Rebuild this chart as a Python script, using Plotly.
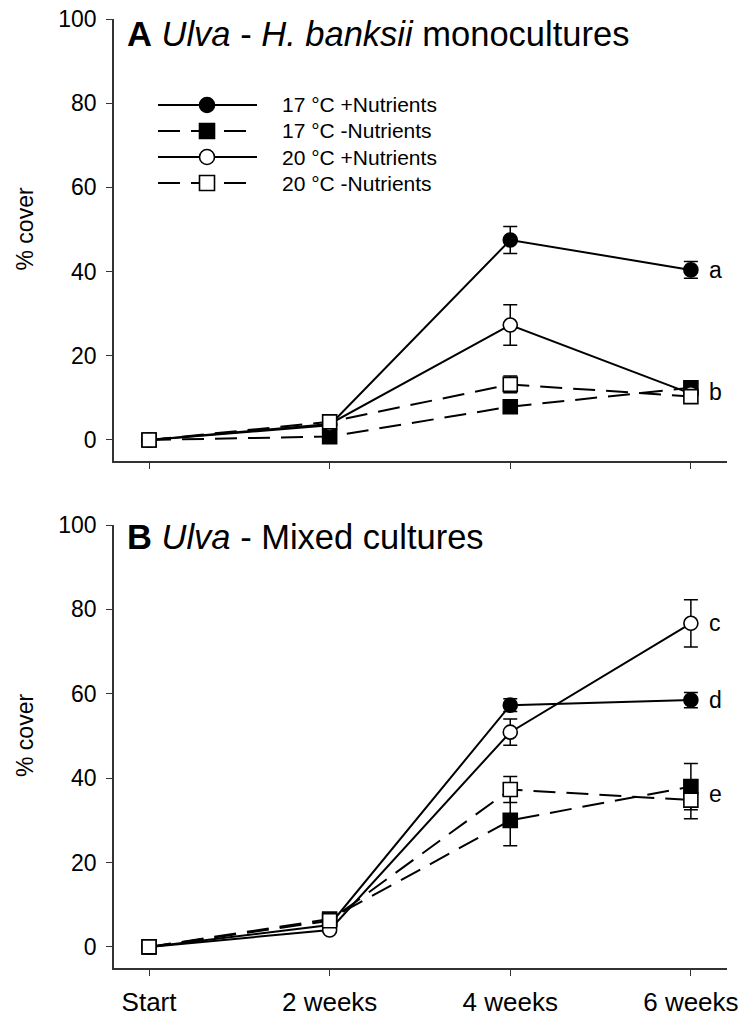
import plotly.graph_objects as go

# Sampling times (shared by both panels)
times = ["Start", "2 weeks", "4 weeks", "6 weeks"]
tpos = [0, 1, 2, 3]

series_names = ["17 °C +Nutrients", "17 °C -Nutrients", "20 °C +Nutrients", "20 °C -Nutrients"]

# Panel A: Ulva - H. banksii monocultures (% cover, mean and SE)
a_17_pos = [0.0, 3.5, 47.5, 40.4]
a_17_pos_se = [0.3, 0.5, 3.2, 2.0]
a_17_neg = [0.0, 0.8, 7.9, 12.4]
a_17_neg_se = [0.3, 0.5, 1.0, 1.0]
a_20_pos = [0.0, 3.8, 27.3, 11.0]
a_20_pos_se = [0.3, 0.5, 4.8, 1.0]
a_20_neg = [0.0, 4.3, 13.2, 10.3]
a_20_neg_se = [0.3, 0.5, 2.0, 1.0]

# Panel B: Ulva - Mixed cultures (% cover, mean and SE)
b_17_pos = [0.0, 5.2, 57.3, 58.5]
b_17_pos_se = [0.3, 0.5, 1.5, 1.8]
b_17_neg = [0.0, 6.6, 30.0, 38.0]
b_17_neg_se = [0.3, 0.5, 6.0, 5.5]
b_20_pos = [0.0, 4.0, 50.9, 76.7]
b_20_pos_se = [0.3, 0.5, 3.1, 5.6]
b_20_neg = [0.0, 6.2, 37.3, 34.8]
b_20_neg_se = [0.3, 0.5, 3.1, 4.4]

# Significance groups at 6 weeks
a_groups = ["a", "b"]
a_group_y = [40.4, 11.3]
b_groups = ["c", "d", "e"]
b_group_y = [76.7, 58.5, 36.3]

y_ticks = [0, 20, 40, 60, 80, 100]

FONT = "Liberation Sans, Arial, sans-serif"
W, H = 744, 1018

styles = [
    dict(symbol="circle", fill="black", dash="solid"),
    dict(symbol="square", fill="black", dash="22px,11px"),
    dict(symbol="circle", fill="white", dash="solid"),
    dict(symbol="square", fill="white", dash="22px,11px"),
]

fig = go.Figure()

panels = [
    ("x", "y", [(a_17_pos, a_17_pos_se), (a_17_neg, a_17_neg_se),
                (a_20_pos, a_20_pos_se), (a_20_neg, a_20_neg_se)]),
    ("x2", "y2", [(b_17_pos, b_17_pos_se), (b_17_neg, b_17_neg_se),
                  (b_20_pos, b_20_pos_se), (b_20_neg, b_20_neg_se)]),
]

for xa, ya, data in panels:
    for name, (vals, se), st in zip(series_names, data, styles):
        fig.add_trace(go.Scatter(
            x=tpos, y=vals, name=name, xaxis=xa, yaxis=ya,
            mode="lines+markers", showlegend=False,
            line=dict(color="black", width=2, dash=st["dash"]),
            marker=dict(symbol=st["symbol"], size=14, color=st["fill"],
                        line=dict(color="black", width=1.6)),
            error_y=dict(type="data", array=se, visible=True,
                         color="black", thickness=1.5, width=7),
        ))

axis_common = dict(
    showline=True, linecolor="#333333", linewidth=1.5,
    ticks="outside", ticklen=6, tickwidth=1.2, tickcolor="#333333",
    showgrid=False, zeroline=False, mirror=False, automargin=False,
)

x_dom = [114 / W, 727 / W]
top_dom = [1 - 461 / H, 1 - 19 / H]
bot_dom = [1 - 968 / H, 1 - 525 / H]

fig.update_layout(
    template="none",
    width=W, height=H,
    margin=dict(l=0, r=0, t=0, b=0, pad=0, autoexpand=False),
    paper_bgcolor="white", plot_bgcolor="white",
    font=dict(family=FONT, color="black"),
    showlegend=False,
    xaxis=dict(domain=x_dom, anchor="y", range=[-0.194, 3.2],
               tickvals=tpos, ticktext=[""] * 4, **axis_common),
    yaxis=dict(domain=top_dom, anchor="x", range=[-5, 100],
               tickvals=y_ticks, tickfont=dict(size=23),
               ticklabelstandoff=5, **axis_common),
    xaxis2=dict(domain=x_dom, anchor="y2", range=[-0.194, 3.2],
                tickvals=tpos, ticktext=times, tickfont=dict(size=26),
                ticklabelstandoff=4, **axis_common),
    yaxis2=dict(domain=bot_dom, anchor="x2", range=[-5, 100],
                tickvals=y_ticks, tickfont=dict(size=23),
                ticklabelstandoff=5, **axis_common),
)

# Y-axis titles, centred on the 0-100 span of each panel
for yc in (229.5, 736):
    fig.add_annotation(text="% cover", xref="paper", yref="paper",
                       x=25 / W, y=1 - yc / H, textangle=-90,
                       xanchor="center", yanchor="middle", showarrow=False,
                       font=dict(size=23))

# Panel titles
fig.add_annotation(text="<b>A</b> <i>Ulva</i> - <i>H. banksii</i> monocultures",
                   xref="paper", yref="paper", x=125 / W, y=1 - 34 / H,
                   xanchor="left", yanchor="middle", showarrow=False,
                   font=dict(size=34.5))
fig.add_annotation(text="<b>B</b> <i>Ulva</i> - Mixed cultures",
                   xref="paper", yref="paper", x=125 / W, y=1 - 537 / H,
                   xanchor="left", yanchor="middle", showarrow=False,
                   font=dict(size=34.5))

# Group letters next to the 6-week points
for txt, yv in zip(a_groups, a_group_y):
    fig.add_annotation(text=txt, x=3, y=yv, xref="x", yref="y", xshift=16,
                       xanchor="left", yanchor="middle", showarrow=False,
                       font=dict(size=23))
for txt, yv in zip(b_groups, b_group_y):
    fig.add_annotation(text=txt, x=3, y=yv, xref="x2", yref="y2", xshift=16,
                       xanchor="left", yanchor="middle", showarrow=False,
                       font=dict(size=23))

# Legend key drawn in panel A (long line samples with centred marker)
leg_rows = [105, 131, 157, 183]
lx0, lx1, lxm, ltext = 158, 257, 207, 280
for name, st, ry in zip(series_names, styles, leg_rows):
    yp = 1 - ry / H
    fig.add_shape(type="line", xref="paper", yref="paper",
                  x0=lx0 / W, x1=lx1 / W, y0=yp, y1=yp,
                  line=dict(color="black", width=2, dash=st["dash"]))
    fig.add_shape(type="circle" if st["symbol"] == "circle" else "rect",
                  xref="paper", yref="paper",
                  xsizemode="pixel", ysizemode="pixel",
                  xanchor=lxm / W, yanchor=yp,
                  x0=-7.5, x1=7.5, y0=-7.5, y1=7.5,
                  fillcolor=st["fill"], line=dict(color="black", width=1.6))
    fig.add_annotation(text=name, xref="paper", yref="paper",
                       x=ltext / W, y=yp, xanchor="left", yanchor="middle",
                       showarrow=False, font=dict(size=21))

fig.write_html("out.html")
